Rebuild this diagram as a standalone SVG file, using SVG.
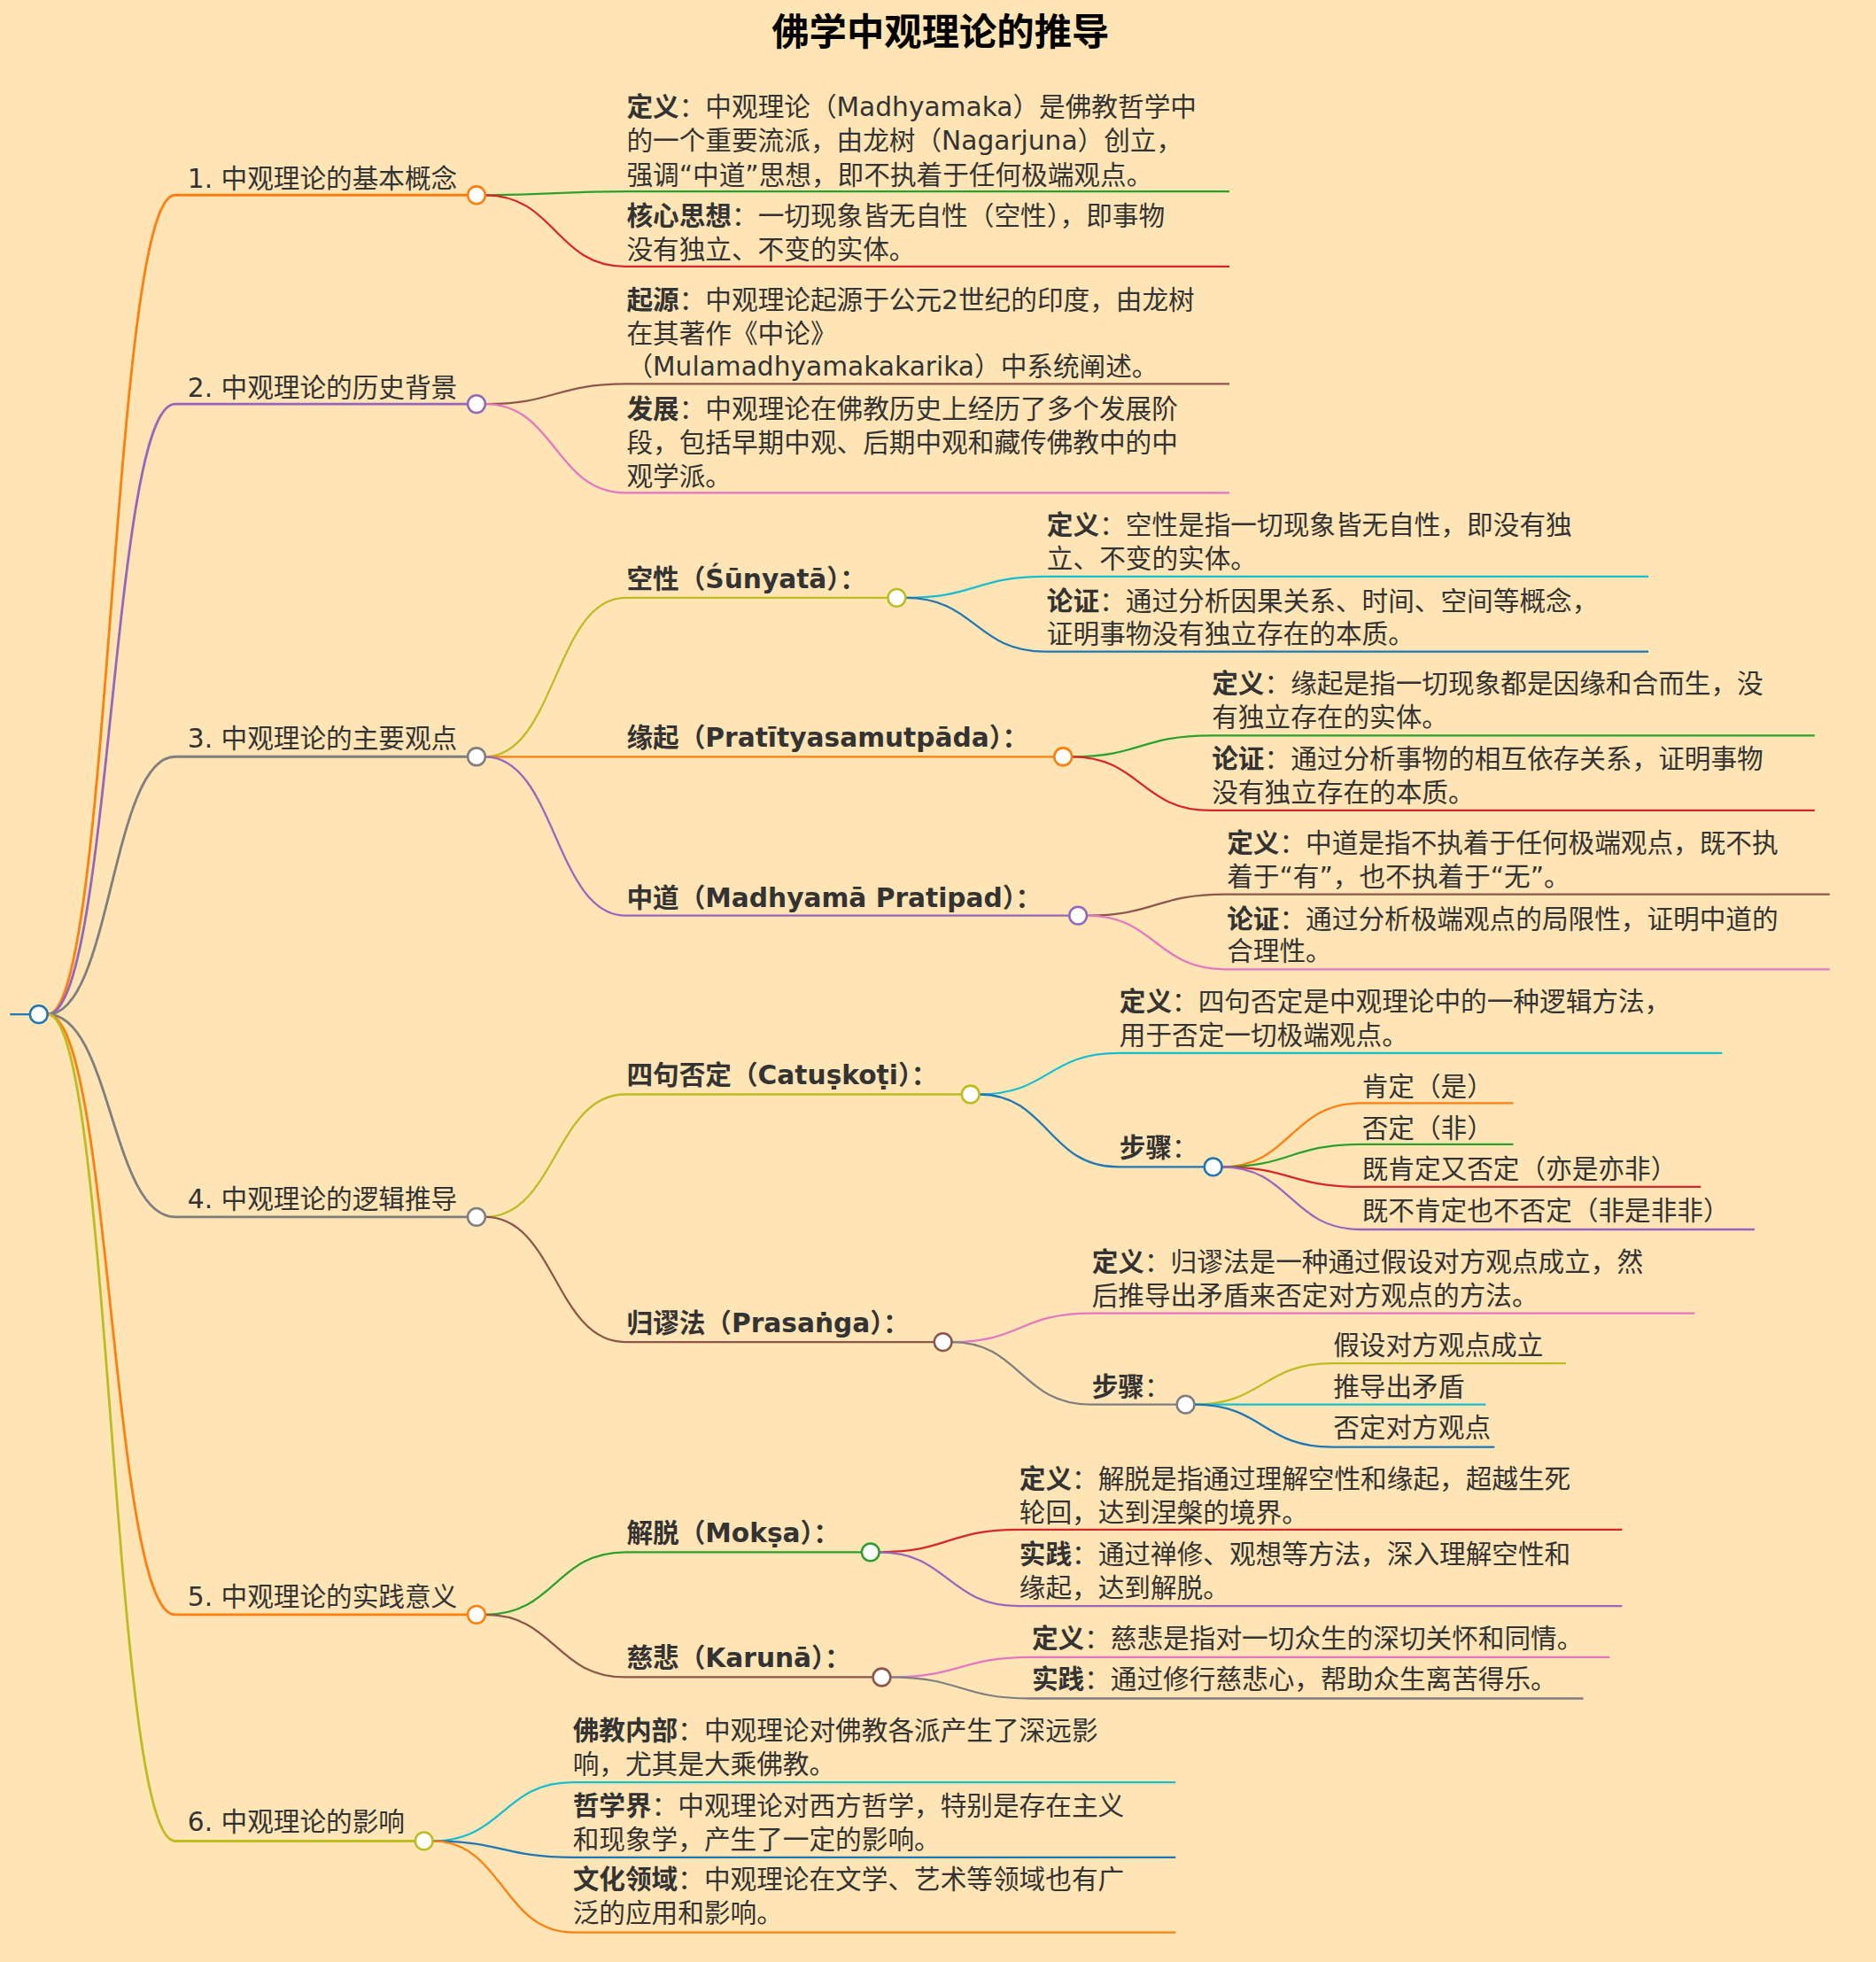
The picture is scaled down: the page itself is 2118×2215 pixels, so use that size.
<svg xmlns="http://www.w3.org/2000/svg" width="2118" height="2215" viewBox="0 0 2118 2215">
<style>
text{font-family:"DejaVu Sans","Noto Sans CJK SC",sans-serif;font-size:21px;fill:#333}
.t{font-size:30px;font-weight:bold;fill:#000;text-anchor:middle;font-family:"Noto Sans CJK SC",sans-serif}
.b{font-weight:bold}
path{fill:none;stroke-width:1.6}
.l1{stroke-width:2}
circle{fill:#fff;stroke-width:1.8}
</style>
<rect width="2118" height="2215" fill="#ffe4b5"/>
<g transform="scale(1.412)">
<text class="t" x="752" y="36">佛学中观理论的推导</text>
<g id="connectors">
<path d="M8,811 L24,811" stroke="#1f77b4"/>
<path class="l1" d="M38,811 C89,811 89,156 140,156 L374,156" stroke="#ff7f0e"/>
<path class="l1" d="M38,811 C89,811 89,323 140,323 L374,323" stroke="#9467bd"/>
<path class="l1" d="M38,811 C89,811 89,605 140,605 L374,605" stroke="#7f7f7f"/>
<path class="l1" d="M38,811 C89,811 89,973 140,973 L374,973" stroke="#7f7f7f"/>
<path class="l1" d="M38,811 C89,811 89,1291 140,1291 L374,1291" stroke="#ff7f0e"/>
<path class="l1" d="M38,811 C89,811 89,1472 140,1472 L332,1472" stroke="#bcbd22"/>
<path d="M388,156 C444,156 444,153 500,153 L983,153" stroke="#2ca02c"/>
<path d="M388,156 C444,156 444,213 500,213 L983,213" stroke="#d62728"/>
<path d="M388,323 C444,323 444,307 500,307 L983,307" stroke="#8c564b"/>
<path d="M388,323 C444,323 444,394 500,394 L983,394" stroke="#e377c2"/>
<path d="M388,605 C444,605 444,478 500,478 L710,478" stroke="#bcbd22"/>
<path d="M388,605 L843,605" stroke="#ff7f0e"/>
<path d="M388,605 C444,605 444,732 500,732 L855,732" stroke="#9467bd"/>
<path d="M724,478 C780,478 780,461 836,461 L1318,461" stroke="#17becf"/>
<path d="M724,478 C780,478 780,521 836,521 L1318,521" stroke="#1f77b4"/>
<path d="M857,605 C912,605 912,588 968,588 L1451,588" stroke="#2ca02c"/>
<path d="M857,605 C912,605 912,648 968,648 L1451,648" stroke="#d62728"/>
<path d="M869,732 C924,732 924,715 980,715 L1463,715" stroke="#8c564b"/>
<path d="M869,732 C924,732 924,775 980,775 L1463,775" stroke="#e377c2"/>
<path d="M388,973 C444,973 444,875 500,875 L769,875" stroke="#bcbd22"/>
<path d="M388,973 C444,973 444,1073 500,1073 L747,1073" stroke="#8c564b"/>
<path d="M783,875 C838,875 838,842 894,842 L1377,842" stroke="#17becf"/>
<path d="M783,875 C838,875 838,933 894,933 L963,933" stroke="#1f77b4"/>
<path d="M977,933 C1032,933 1032,882 1088,882 L1210,882" stroke="#ff7f0e"/>
<path d="M977,933 C1032,933 1032,915 1088,915 L1210,915" stroke="#2ca02c"/>
<path d="M977,933 C1032,933 1032,949 1088,949 L1360,949" stroke="#d62728"/>
<path d="M977,933 C1032,933 1032,983 1088,983 L1403,983" stroke="#9467bd"/>
<path d="M761,1073 C816,1073 816,1050 872,1050 L1355,1050" stroke="#e377c2"/>
<path d="M761,1073 C816,1073 816,1123 872,1123 L941,1123" stroke="#7f7f7f"/>
<path d="M955,1123 C1010,1123 1010,1090 1065,1090 L1252,1090" stroke="#bcbd22"/>
<path d="M955,1123 L1188,1123" stroke="#17becf"/>
<path d="M955,1123 C1010,1123 1010,1157 1065,1157 L1195,1157" stroke="#1f77b4"/>
<path d="M388,1291 C444,1291 444,1241 500,1241 L689,1241" stroke="#2ca02c"/>
<path d="M388,1291 C444,1291 444,1341 500,1341 L698,1341" stroke="#8c564b"/>
<path d="M703,1241 C758,1241 758,1223 814,1223 L1297,1223" stroke="#d62728"/>
<path d="M703,1241 C758,1241 758,1284 814,1284 L1297,1284" stroke="#9467bd"/>
<path d="M712,1341 C768,1341 768,1325 824,1325 L1287,1325" stroke="#e377c2"/>
<path d="M712,1341 C768,1341 768,1358 824,1358 L1266,1358" stroke="#7f7f7f"/>
<path d="M346,1472 C402,1472 402,1425 458,1425 L940,1425" stroke="#17becf"/>
<path d="M346,1472 C402,1472 402,1485 458,1485 L940,1485" stroke="#1f77b4"/>
<path d="M346,1472 C402,1472 402,1545 458,1545 L940,1545" stroke="#ff7f0e"/>
</g>
<g id="root"><circle cx="31" cy="811" r="7" stroke="#1f77b4"/></g>
<g id="n1"><circle cx="381" cy="156" r="7" stroke="#ff7f0e"/><text x="150" y="150">1. 中观理论的基本概念</text></g>
<g id="n1a"><text x="501" y="93"><tspan class="b">定义</tspan>：中观理论（Madhyamaka）是佛教哲学中</text><text x="501" y="120">的一个重要流派，由龙树（Nagarjuna）创立，</text><text x="501" y="147">强调“中道”思想，即不执着于任何极端观点。</text></g>
<g id="n1b"><text x="501" y="180"><tspan class="b">核心思想</tspan>：一切现象皆无自性（空性），即事物</text><text x="501" y="207">没有独立、不变的实体。</text></g>
<g id="n2"><circle cx="381" cy="323" r="7" stroke="#9467bd"/><text x="150" y="317">2. 中观理论的历史背景</text></g>
<g id="n2a"><text x="501" y="247"><tspan class="b">起源</tspan>：中观理论起源于公元2世纪的印度，由龙树</text><text x="501" y="274">在其著作《中论》</text><text x="501" y="300">（Mulamadhyamakakarika）中系统阐述。</text></g>
<g id="n2b"><text x="501" y="334"><tspan class="b">发展</tspan>：中观理论在佛教历史上经历了多个发展阶</text><text x="501" y="361">段，包括早期中观、后期中观和藏传佛教中的中</text><text x="501" y="388">观学派。</text></g>
<g id="n3"><circle cx="381" cy="605" r="7" stroke="#7f7f7f"/><text x="150" y="598">3. 中观理论的主要观点</text></g>
<g id="n31"><circle cx="717" cy="478" r="7" stroke="#bcbd22"/><text x="501" y="470" class="b">空性（Śūnyatā）：</text></g>
<g id="n31a"><text x="837" y="427"><tspan class="b">定义</tspan>：空性是指一切现象皆无自性，即没有独</text><text x="837" y="454">立、不变的实体。</text></g>
<g id="n31b"><text x="837" y="488"><tspan class="b">论证</tspan>：通过分析因果关系、时间、空间等概念，</text><text x="837" y="514">证明事物没有独立存在的本质。</text></g>
<g id="n32"><circle cx="850" cy="605" r="7" stroke="#ff7f0e"/><text x="501" y="597" class="b">缘起（Pratītyasamutpāda）：</text></g>
<g id="n32a"><text x="969" y="554"><tspan class="b">定义</tspan>：缘起是指一切现象都是因缘和合而生，没</text><text x="969" y="581">有独立存在的实体。</text></g>
<g id="n32b"><text x="969" y="614"><tspan class="b">论证</tspan>：通过分析事物的相互依存关系，证明事物</text><text x="969" y="641">没有独立存在的本质。</text></g>
<g id="n33"><circle cx="862" cy="732" r="7" stroke="#9467bd"/><text x="501" y="725" class="b">中道（Madhyamā Pratipad）：</text></g>
<g id="n33a"><text x="981" y="681"><tspan class="b">定义</tspan>：中道是指不执着于任何极端观点，既不执</text><text x="981" y="708">着于“有”，也不执着于“无”。</text></g>
<g id="n33b"><text x="981" y="742"><tspan class="b">论证</tspan>：通过分析极端观点的局限性，证明中道的</text><text x="981" y="768">合理性。</text></g>
<g id="n4"><circle cx="381" cy="973" r="7" stroke="#7f7f7f"/><text x="150" y="966">4. 中观理论的逻辑推导</text></g>
<g id="n41"><circle cx="776" cy="875" r="7" stroke="#bcbd22"/><text x="501" y="867" class="b">四句否定（Catuṣkoṭi）：</text></g>
<g id="n41a"><text x="895" y="808"><tspan class="b">定义</tspan>：四句否定是中观理论中的一种逻辑方法，</text><text x="895" y="835">用于否定一切极端观点。</text></g>
<g id="n41b"><circle cx="970" cy="933" r="7" stroke="#1f77b4"/><text x="895" y="925"><tspan class="b">步骤</tspan>：</text></g>
<g id="n41b1"><text x="1089" y="876">肯定（是）</text></g>
<g id="n41b2"><text x="1089" y="909">否定（非）</text></g>
<g id="n41b3"><text x="1089" y="942">既肯定又否定（亦是亦非）</text></g>
<g id="n41b4"><text x="1089" y="975">既不肯定也不否定（非是非非）</text></g>
<g id="n42"><circle cx="754" cy="1073" r="7" stroke="#8c564b"/><text x="501" y="1065" class="b">归谬法（Prasaṅga）：</text></g>
<g id="n42a"><text x="873" y="1016"><tspan class="b">定义</tspan>：归谬法是一种通过假设对方观点成立，然</text><text x="873" y="1043">后推导出矛盾来否定对方观点的方法。</text></g>
<g id="n42b"><circle cx="948" cy="1123" r="7" stroke="#7f7f7f"/><text x="873" y="1116"><tspan class="b">步骤</tspan>：</text></g>
<g id="n42b1"><text x="1066" y="1083">假设对方观点成立</text></g>
<g id="n42b2"><text x="1066" y="1116">推导出矛盾</text></g>
<g id="n42b3"><text x="1066" y="1149">否定对方观点</text></g>
<g id="n5"><circle cx="381" cy="1291" r="7" stroke="#ff7f0e"/><text x="150" y="1284">5. 中观理论的实践意义</text></g>
<g id="n51"><circle cx="696" cy="1241" r="7" stroke="#2ca02c"/><text x="501" y="1233" class="b">解脱（Mokṣa）：</text></g>
<g id="n51a"><text x="815" y="1190"><tspan class="b">定义</tspan>：解脱是指通过理解空性和缘起，超越生死</text><text x="815" y="1217">轮回，达到涅槃的境界。</text></g>
<g id="n51b"><text x="815" y="1250"><tspan class="b">实践</tspan>：通过禅修、观想等方法，深入理解空性和</text><text x="815" y="1277">缘起，达到解脱。</text></g>
<g id="n52"><circle cx="705" cy="1341" r="7" stroke="#8c564b"/><text x="501" y="1333" class="b">慈悲（Karunā）：</text></g>
<g id="n52a"><text x="825" y="1317"><tspan class="b">定义</tspan>：慈悲是指对一切众生的深切关怀和同情。</text></g>
<g id="n52b"><text x="825" y="1350"><tspan class="b">实践</tspan>：通过修行慈悲心，帮助众生离苦得乐。</text></g>
<g id="n6"><circle cx="339" cy="1472" r="7" stroke="#bcbd22"/><text x="150" y="1464">6. 中观理论的影响</text></g>
<g id="n6a"><text x="458" y="1391"><tspan class="b">佛教内部</tspan>：中观理论对佛教各派产生了深远影</text><text x="458" y="1418">响，尤其是大乘佛教。</text></g>
<g id="n6b"><text x="458" y="1451"><tspan class="b">哲学界</tspan>：中观理论对西方哲学，特别是存在主义</text><text x="458" y="1478">和现象学，产生了一定的影响。</text></g>
<g id="n6c"><text x="458" y="1510"><tspan class="b">文化领域</tspan>：中观理论在文学、艺术等领域也有广</text><text x="458" y="1537">泛的应用和影响。</text></g>
</g>
</svg>
